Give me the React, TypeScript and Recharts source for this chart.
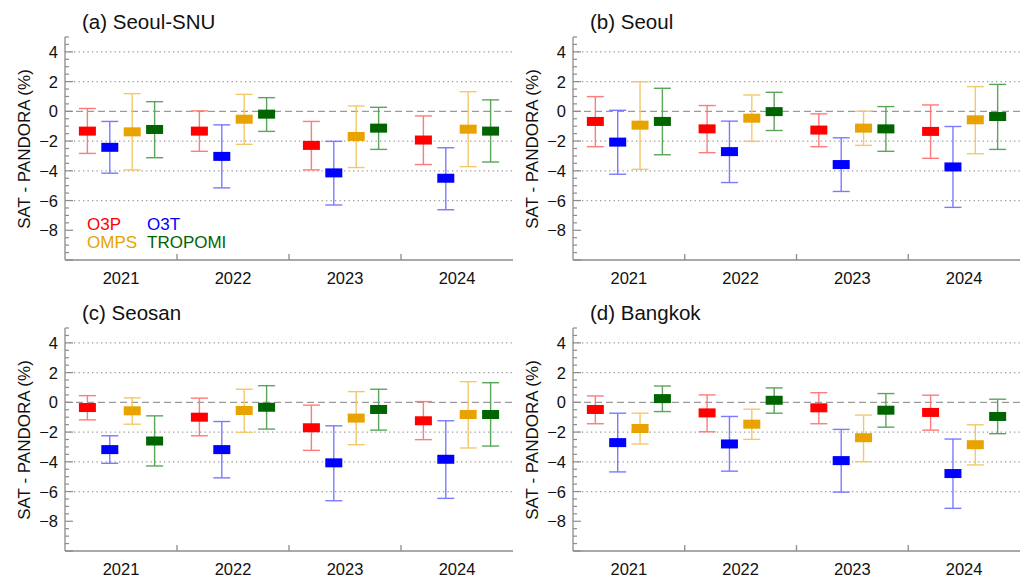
import React from 'react';
import {
  ComposedChart,
  Scatter,
  ErrorBar,
  XAxis,
  YAxis,
  ReferenceLine,
} from 'recharts';

const years = ['2021', '2022', '2023', '2024'];
const instruments = ['O3P', 'O3T', 'OMPS', 'TROPOMI'];
const boxColors = ['#ff0000', '#0000ff', '#e8a300', '#006400'];
const whiskerColors = ['#ff7a7a', '#7a7aff', '#f3c86a', '#5aa55a'];

// rows: O3P, O3T, OMPS, TROPOMI; columns: 2021..2024
const snuMean = [
  [-1.33, -1.33, -2.29, -1.93],
  [-2.42, -3.03, -4.14, -4.5],
  [-1.38, -0.53, -1.69, -1.2],
  [-1.22, -0.19, -1.13, -1.33],
];
const snuHigh = [
  [0.19, 0.03, -0.68, -0.31],
  [-0.68, -0.91, -2.02, -2.45],
  [1.19, 1.14, 0.36, 1.32],
  [0.65, 0.92, 0.27, 0.77],
];
const snuLow = [
  [-2.83, -2.69, -3.94, -3.58],
  [-4.16, -5.15, -6.3, -6.62],
  [-3.94, -2.22, -3.78, -3.72],
  [-3.12, -1.35, -2.56, -3.41],
];

const seoulMean = [
  [-0.68, -1.18, -1.26, -1.35],
  [-2.07, -2.71, -3.58, -3.74],
  [-0.93, -0.46, -1.13, -0.57],
  [-0.68, -0.02, -1.18, -0.35],
];
const seoulHigh = [
  [0.99, 0.39, -0.17, 0.43],
  [0.07, -0.66, -1.78, -1.02],
  [1.99, 1.1, 0.01, 1.66],
  [1.55, 1.28, 0.32, 1.81],
];
const seoulLow = [
  [-2.38, -2.78, -2.38, -3.16],
  [-4.23, -4.79, -5.39, -6.46],
  [-3.9, -2.02, -2.29, -2.85],
  [-2.92, -1.29, -2.69, -2.56],
];

const seosanMean = [
  [-0.35, -1.0, -1.71, -1.24],
  [-3.18, -3.18, -4.07, -3.83],
  [-0.57, -0.55, -1.06, -0.82],
  [-2.6, -0.33, -0.48, -0.82],
];
const seosanHigh = [
  [0.45, 0.28, -0.19, 0.05],
  [-2.25, -1.29, -1.58, -1.24],
  [0.3, 0.88, 0.72, 1.39],
  [-0.91, 1.12, 0.88, 1.32],
];
const seosanLow = [
  [-1.18, -2.25, -3.23, -2.51],
  [-4.1, -5.08, -6.62, -6.46],
  [-1.47, -2.02, -2.85, -3.07],
  [-4.28, -1.8, -1.87, -2.94],
];

const bangkokMean = [
  [-0.48, -0.71, -0.37, -0.68],
  [-2.71, -2.8, -3.92, -4.79],
  [-1.76, -1.47, -2.38, -2.85],
  [0.25, 0.14, -0.53, -0.95],
];
const bangkokHigh = [
  [0.43, 0.5, 0.65, 0.48],
  [-0.73, -0.95, -1.82, -2.47],
  [-0.73, -0.46, -0.86, -1.51],
  [1.1, 0.97, 0.59, 0.21],
];
const bangkokLow = [
  [-1.44, -1.98, -1.44, -1.87],
  [-4.68, -4.63, -6.04, -7.13],
  [-2.8, -2.49, -3.99, -4.21],
  [-0.62, -0.73, -1.67, -2.11],
];

const yLabels = [-8, -6, -4, -2, 0, 2, 4];
const dottedGrid = [4, 2, -2, -4, -6];
const yTicks = Array.from({ length: 31 }, (_, i) => -10 + i * 0.5);
const xTicks = [0.5, 1, 1.5, 2, 2.5, 3, 3.5];
const boundaryTicks = [1, 2, 3];

const FONT = '"Liberation Sans", Arial, Helvetica, sans-serif';
const FRAME = '#8c8c8c';

const fmt = (v: number) => (v < 0 ? `\u2212${Math.abs(v)}` : `${v}`);

const BottomTick = ({ x, y, payload }: any) => {
  const v = payload.value;
  if (Number.isInteger(v)) {
    return <line x1={x} x2={x} y1={y} y2={y - 6} stroke={FRAME} strokeWidth={1.3} />;
  }
  return (
    <text x={x} y={y + 24} textAnchor="middle" fontFamily={FONT} fontSize={16.5} fill="#111">
      {years[Math.floor(v)]}
    </text>
  );
};

const TopTick = ({ x, y }: any) => (
  <line x1={x} x2={x} y1={y} y2={y + 6} stroke={FRAME} strokeWidth={1.3} />
);

const LeftTick = ({ x, y, payload }: any) => {
  const v = payload.value;
  const major = v % 2 === 0;
  return (
    <g>
      <line x1={x} x2={x + (major ? 8 : 4)} y1={y} y2={y} stroke={FRAME} strokeWidth={1.2} />
      {yLabels.includes(v) && (
        <text x={x - 7} y={y + 6} textAnchor="end" fontFamily={FONT} fontSize={16.5} fill="#111">
          {fmt(v)}
        </text>
      )}
    </g>
  );
};

const RightTick = ({ x, y, payload }: any) => {
  const major = payload.value % 2 === 0;
  return <line x1={x} x2={x - (major ? 8 : 4)} y1={y} y2={y} stroke={FRAME} strokeWidth={1.2} />;
};

const BoxShape = ({ cx, cy, fill }: any) => (
  <rect x={cx - 8.5} y={cy - 4.5} width={17} height={9} fill={fill} />
);

interface PanelProps {
  left: number;
  top: number;
  width: number;
  marginRight: number;
  title: string;
  mean: number[][];
  low: number[][];
  high: number[][];
  legend?: boolean;
}

function Panel({ left, top, width, marginRight, title, mean, low, high, legend }: PanelProps) {
  const plotLeft = 65;
  const plotTop = 37;
  const plotBottom = 260;
  return (
    <div style={{ position: 'absolute', left, top, width, height: 290 }}>
      <div
        style={{
          position: 'absolute',
          left: plotLeft + 17,
          top: 10,
          fontSize: 20.5,
          lineHeight: '24px',
          fontFamily: FONT,
          color: '#111',
          whiteSpace: 'nowrap',
        }}
      >
        {title}
      </div>
      <div
        style={{
          position: 'absolute',
          left: plotLeft - 40,
          top: (plotTop + plotBottom) / 2,
          transform: 'translate(-50%, -50%) rotate(-90deg)',
          fontSize: 17,
          fontFamily: FONT,
          color: '#111',
          whiteSpace: 'nowrap',
        }}
      >
        SAT - PANDORA (%)
      </div>
      <ComposedChart
        width={width}
        height={290}
        margin={{ top: plotTop, right: marginRight, bottom: 6, left: 15 }}
      >
        <XAxis
          type="number"
          dataKey="x"
          domain={[0, 4]}
          ticks={xTicks}
          interval={0}
          tickLine={false}
          tickSize={0}
          tickMargin={0}
          height={24}
          axisLine={{ stroke: FRAME, strokeWidth: 1.3 }}
          tick={<BottomTick />}
          allowDataOverflow
        />
        <XAxis
          xAxisId="t"
          orientation="top"
          type="number"
          domain={[0, 4]}
          ticks={boundaryTicks}
          interval={0}
          tickLine={false}
          tickSize={0}
          tickMargin={0}
          height={0}
          axisLine={{ stroke: FRAME, strokeWidth: 1.3 }}
          tick={<TopTick />}
          allowDataOverflow
        />
        <YAxis
          type="number"
          domain={[-10, 5]}
          ticks={yTicks}
          interval={0}
          tickLine={false}
          tickSize={0}
          tickMargin={0}
          width={50}
          axisLine={{ stroke: FRAME, strokeWidth: 1.3 }}
          tick={<LeftTick />}
          allowDataOverflow
        />
        <YAxis
          yAxisId="r"
          orientation="right"
          type="number"
          domain={[-10, 5]}
          ticks={yTicks}
          interval={0}
          tickLine={false}
          tickSize={0}
          tickMargin={0}
          width={0}
          axisLine={{ stroke: FRAME, strokeWidth: 1.3 }}
          tick={<RightTick />}
          allowDataOverflow
        />
        {dottedGrid.map((g) => (
          <ReferenceLine key={g} y={g} stroke="#9a9a9a" strokeWidth={1.3} strokeDasharray="1.3 3.2" />
        ))}
        <ReferenceLine y={0} stroke="#9a9a9a" strokeWidth={1.3} strokeDasharray="7 4" />
        {instruments.map((name, j) => {
          const data = years.map((_, i) => ({
            x: i + (j + 1) / 5,
            y: mean[j][i],
            err: [mean[j][i] - low[j][i], high[j][i] - mean[j][i]],
          }));
          return (
            <Scatter
              key={name}
              name={name}
              data={data}
              dataKey="y"
              fill={boxColors[j]}
              shape={<BoxShape />}
              isAnimationActive={false}
            >
              <ErrorBar
                dataKey="err"
                direction="y"
                width={8.5}
                stroke={whiskerColors[j]}
                strokeWidth={1.4}
                isAnimationActive={false}
              />
            </Scatter>
          );
        })}
      </ComposedChart>
      {legend && (
        <div style={{ position: 'absolute', left: plotLeft + 22, top: 216, fontFamily: FONT, fontSize: 17, lineHeight: '18px' }}>
          <div style={{ display: 'flex' }}>
            <span style={{ width: 60, color: boxColors[0] }}>{instruments[0]}</span>
            <span style={{ color: boxColors[1] }}>{instruments[1]}</span>
          </div>
          <div style={{ display: 'flex' }}>
            <span style={{ width: 60, color: boxColors[2] }}>{instruments[2]}</span>
            <span style={{ color: boxColors[3] }}>{instruments[3]}</span>
          </div>
        </div>
      )}
    </div>
  );
}

export default function App() {
  return (
    <div style={{ position: 'fixed', left: 0, top: 0, width: 1024, height: 579, background: '#fff', overflow: 'hidden' }}>
      <Panel left={0} top={0} width={520} marginRight={7} title="(a) Seoul-SNU" mean={snuMean} low={snuLow} high={snuHigh} legend />
      <Panel left={508} top={0} width={516} marginRight={4} title="(b) Seoul" mean={seoulMean} low={seoulLow} high={seoulHigh} />
      <Panel left={0} top={291} width={520} marginRight={7} title="(c) Seosan" mean={seosanMean} low={seosanLow} high={seosanHigh} />
      <Panel left={508} top={291} width={516} marginRight={4} title="(d) Bangkok" mean={bangkokMean} low={bangkokLow} high={bangkokHigh} />
    </div>
  );
}
